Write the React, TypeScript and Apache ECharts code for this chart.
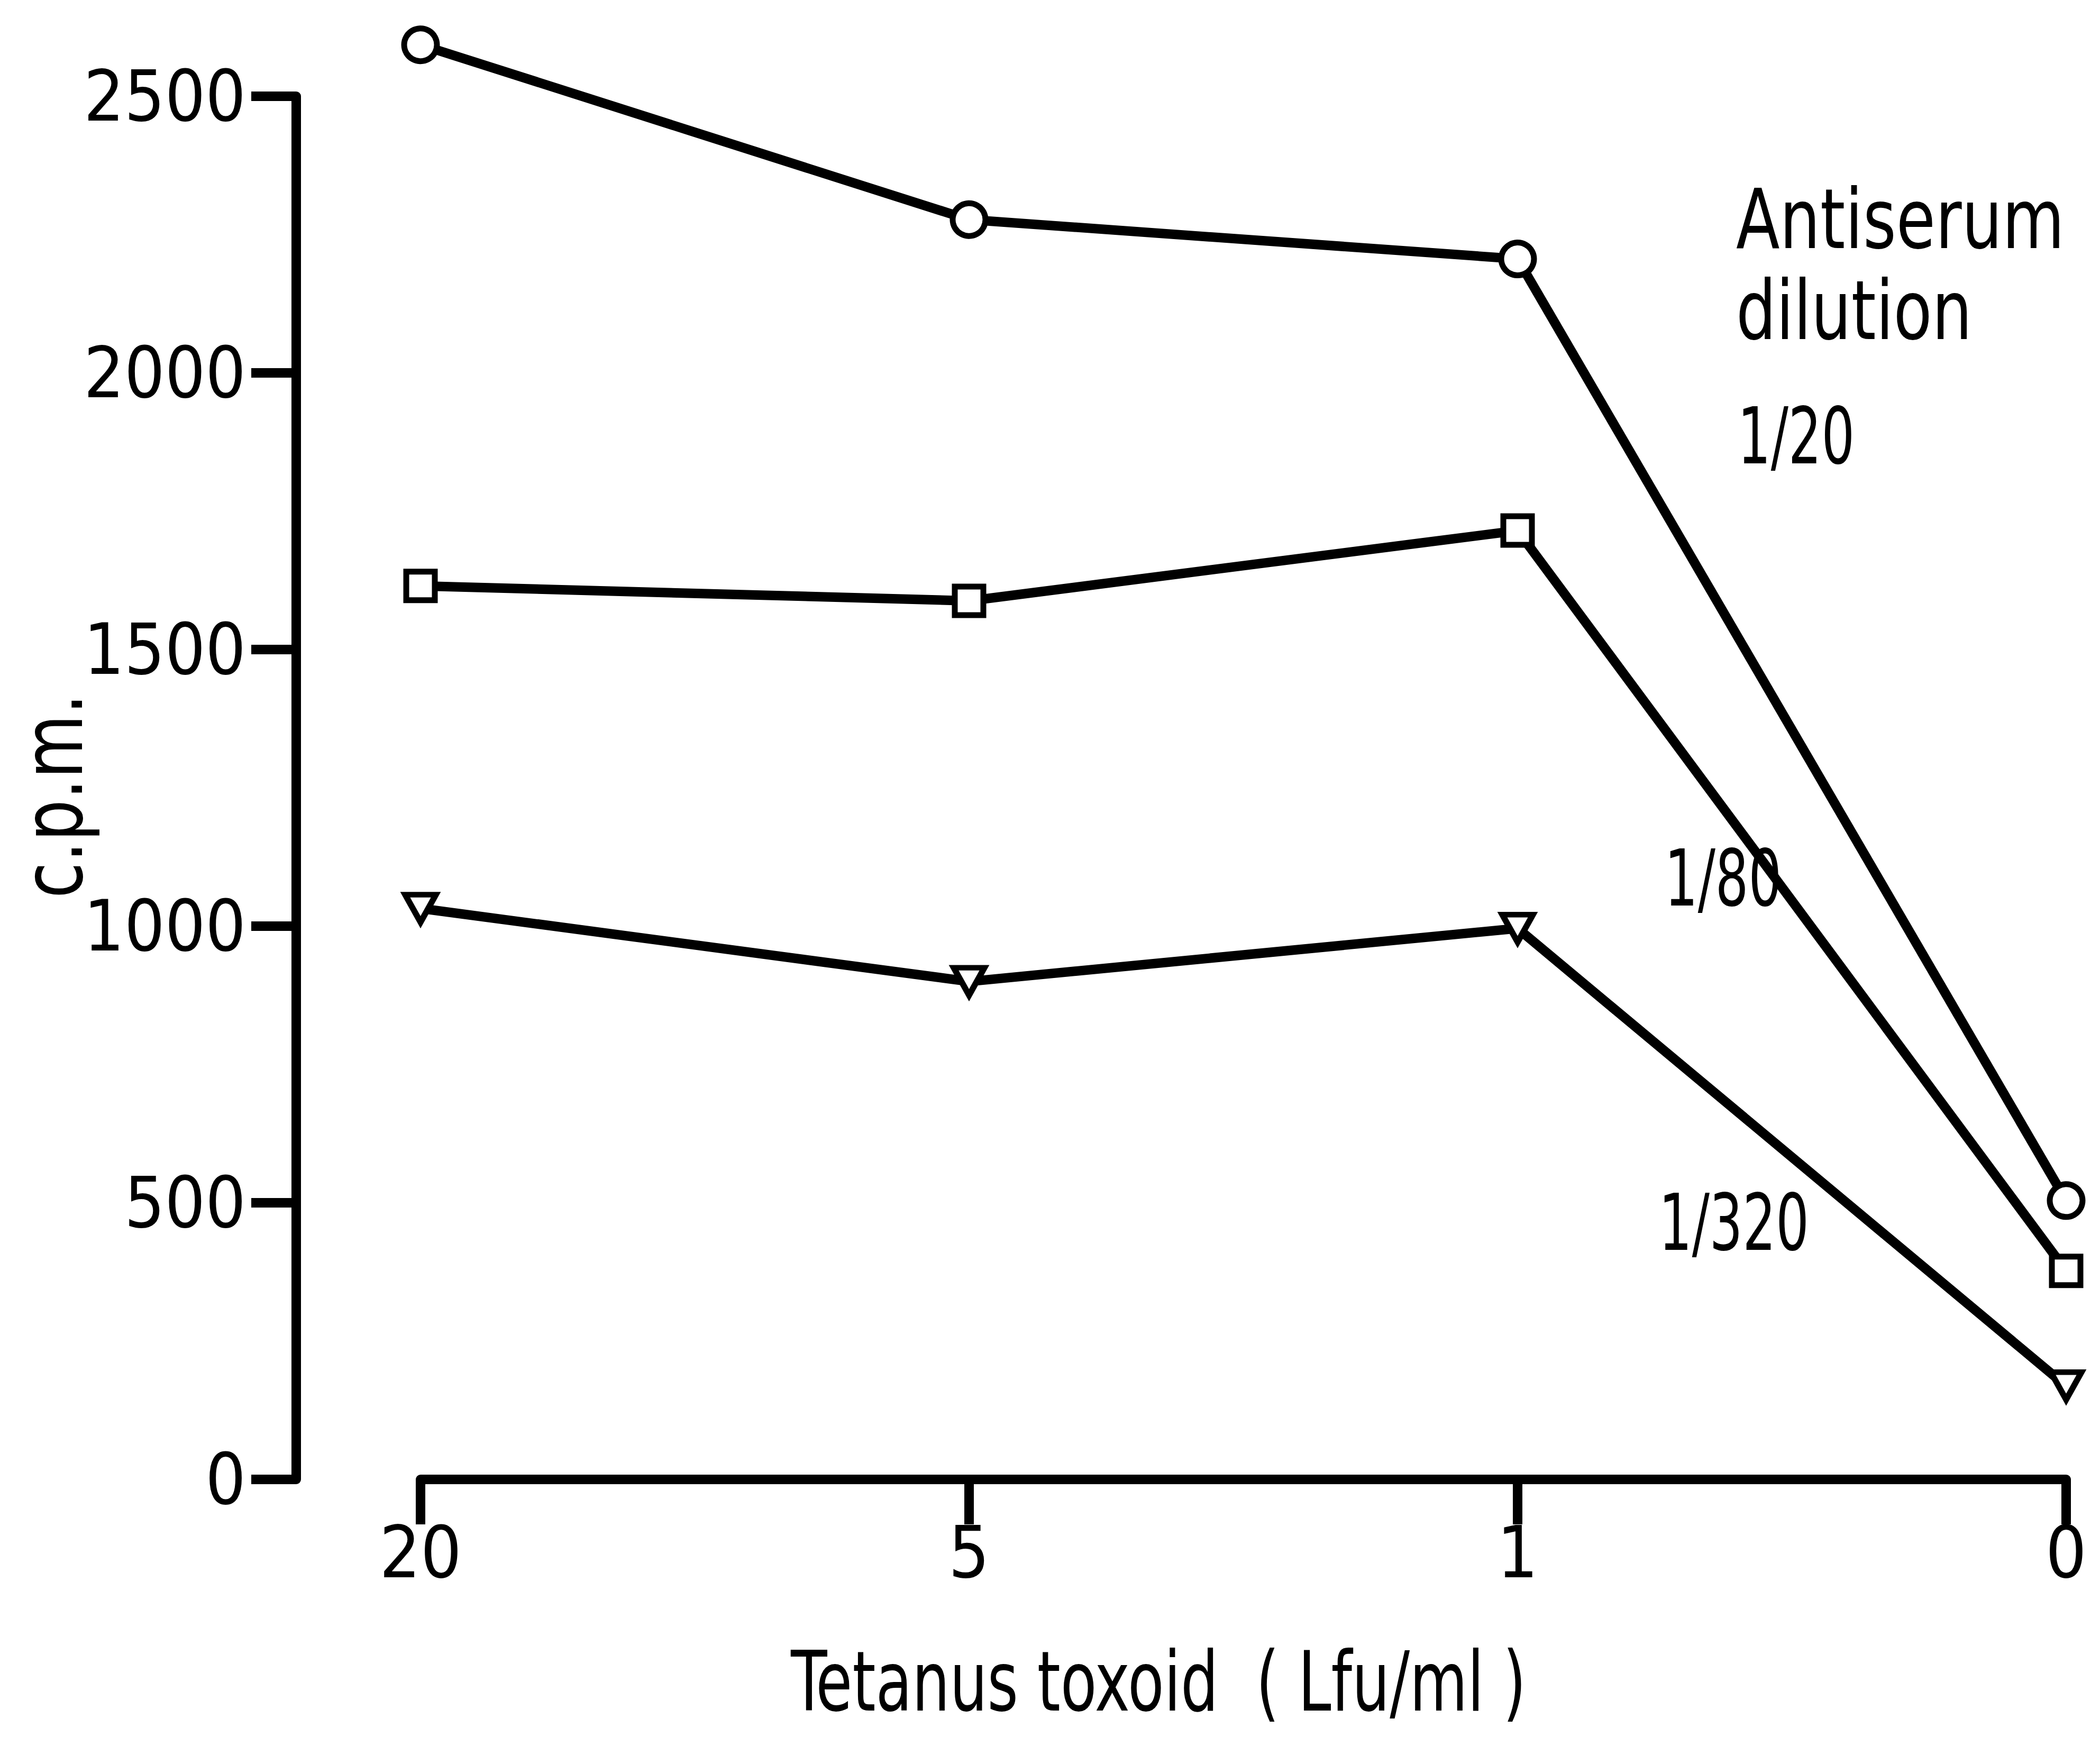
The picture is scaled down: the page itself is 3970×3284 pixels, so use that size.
import React, { useEffect, useRef } from "react";
import * as echarts from "echarts";

const categories = ["20", "5", "1", "0"];
const dilution20 = [2593, 2277, 2206, 504];
const dilution80 = [1615, 1588, 1715, 377];
const dilution320 = [1032, 900, 996, 169];
const yMin = 0;
const yMax = 2500;
const yInterval = 500;

const xTitle = "Tetanus toxoid  ( Lfu/ml )";
const yTitle = "c.p.m.";
const legendTitle = ["Antiserum", "dilution"];
const seriesLabels = ["1/20", "1/80", "1/320"];

const FONT = '"DejaVu Sans Condensed", "DejaVu Sans", sans-serif';

function txt(text: string, x: number, y: number, size: number, align: string, sx: number, rotation = 0) {
  return {
    type: "text",
    x,
    y,
    rotation,
    scaleX: sx,
    style: {
      text,
      fontSize: size,
      fontFamily: FONT,
      fill: "#000",
      align,
      verticalAlign: "middle",
      textAlign: align,
      textVerticalAlign: "middle",
    },
  };
}

export default function App() {
  const ref = useRef<HTMLDivElement>(null);
  useEffect(() => {
    if (!ref.current) return;
    const chart = echarts.init(ref.current, null, { renderer: "svg" });
    const lineW = 18;
    const mk = (name: string, data: number[], symbol: string, size: any, rotate = 0) => ({
      name,
      type: "line",
      data,
      clip: false,
      symbol,
      symbolSize: size,
      symbolRotate: rotate,
      showSymbol: true,
      lineStyle: { color: "#000", width: lineW },
      itemStyle: { color: "#fff", borderColor: "#000", borderWidth: 11 },
      z: 3,
    });
    chart.setOption({
      animation: false,
      backgroundColor: "#fff",
      textStyle: { fontFamily: FONT, color: "#000" },
      grid: { left: 795, right: 64, top: 182, bottom: 487, containLabel: false },
      xAxis: {
        type: "category",
        data: categories,
        boundaryGap: false,
        axisLine: { lineStyle: { color: "#000", width: lineW } },
        axisTick: { show: true, length: 85, lineStyle: { color: "#000", width: lineW } },
        axisLabel: { color: "#000", fontSize: 136, fontFamily: FONT, margin: 70, lineHeight: 136 },
        splitLine: { show: false },
      },
      yAxis: {
        type: "value",
        min: yMin,
        max: yMax,
        interval: yInterval,
        offset: 235,
        axisLine: { show: true, lineStyle: { color: "#000", width: lineW } },
        axisTick: { show: true, length: 85, lineStyle: { color: "#000", width: lineW } },
        axisLabel: {
          color: "#000",
          fontSize: 134,
          fontFamily: FONT,
          margin: 95,
          formatter: (v: number) => String(v),
        },
        splitLine: { show: false },
      },
      graphic: [
        txt(legendTitle[0], 3282, 415, 156, "left", 0.86),
        txt(legendTitle[1], 3282, 587, 156, "left", 0.85),
        txt(seriesLabels[0], 3285, 825, 148, "left", 0.74),
        txt(seriesLabels[1], 3147, 1661, 148, "left", 0.74),
        txt(seriesLabels[2], 3136, 2312, 148, "left", 0.74),
        txt(xTitle, 2190, 3180, 156, "center", 0.8),
        txt(yTitle, 100, 1505, 159, "center", 0.87, Math.PI / 2),
      ],
      series: [
        mk(seriesLabels[0], dilution20, "circle", 62),
        mk(seriesLabels[1], dilution80, "rect", 54),
        mk(seriesLabels[2], dilution320, "triangle", [58, 52], 180),
      ],
    });
    return () => chart.dispose();
  }, []);
  return (
    <div
      ref={ref}
      style={{ position: "absolute", left: 0, top: 0, width: 3970, height: 3284, background: "#fff" }}
    />
  );
}
